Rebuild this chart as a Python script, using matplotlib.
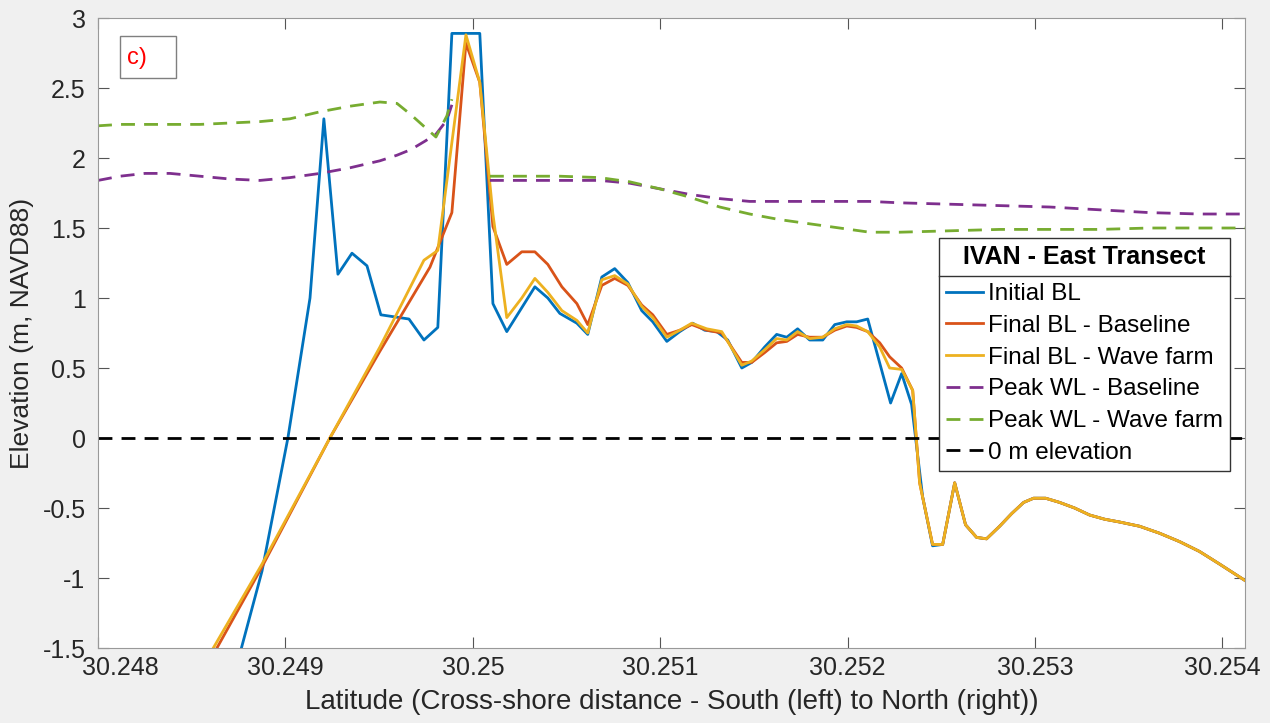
import numpy as np
import matplotlib
matplotlib.use("Agg")
import matplotlib.pyplot as plt
from matplotlib.lines import Line2D
from matplotlib.patches import Rectangle
from matplotlib.transforms import ScaledTranslation

# Cross-shore profile, IVAN - East Transect
lat_initial = [30.248715, 30.248875, 30.249013, 30.249131, 30.249205, 30.249280,
               30.249355, 30.249435, 30.249509, 30.249659, 30.249739, 30.249813,
               30.249888, 30.250037, 30.250107, 30.250181, 30.250256, 30.250331,
               30.250400, 30.250464, 30.250555, 30.250613, 30.250688, 30.250757,
               30.250827, 30.250901, 30.250960, 30.251035, 30.251104, 30.251173,
               30.251237, 30.251301, 30.251360, 30.251435, 30.251488, 30.251557,
               30.251621, 30.251675, 30.251733, 30.251797, 30.251867, 30.251931,
               30.251995, 30.252048, 30.252107, 30.252229, 30.252288, 30.252341,
               30.252400, 30.252453]
elev_initial = [-1.75, -0.95, 0.00, 1.00, 2.28, 1.17, 1.32, 1.23, 0.88, 0.85,
                0.70, 0.79, 2.89, 2.89, 0.96, 0.76, 0.92, 1.08, 1.00, 0.89,
                0.82, 0.74, 1.15, 1.21, 1.11, 0.91, 0.83, 0.69, 0.76, 0.82,
                0.77, 0.76, 0.70, 0.50, 0.54, 0.65, 0.74, 0.72, 0.78, 0.70,
                0.70, 0.81, 0.83, 0.83, 0.85, 0.25, 0.46, 0.24, -0.42, -0.77]

# both final profiles use the same x positions
lat_final = [30.248597, 30.248875, 30.249237, 30.249504, 30.249771, 30.249888,
             30.249963, 30.250037, 30.250107, 30.250181, 30.250261, 30.250331,
             30.250400, 30.250475, 30.250555, 30.250613, 30.250688, 30.250757,
             30.250827, 30.250901, 30.250960, 30.251035, 30.251104, 30.251168,
             30.251248, 30.251328, 30.251360, 30.251435, 30.251488, 30.251557,
             30.251621, 30.251675, 30.251733, 30.251797, 30.251867, 30.251931,
             30.251995, 30.252048, 30.252107, 30.252171, 30.252224, 30.252288,
             30.252347, 30.252384, 30.252453]
elev_final_base = [-1.59, -0.92, 0.00, 0.62, 1.22, 1.61, 2.82, 2.54, 1.51, 1.24,
                   1.33, 1.33, 1.24, 1.08, 0.96, 0.81, 1.09, 1.14, 1.09, 0.95,
                   0.88, 0.74, 0.77, 0.81, 0.77, 0.75, 0.69, 0.54, 0.54, 0.61,
                   0.68, 0.69, 0.74, 0.72, 0.72, 0.77, 0.80, 0.79, 0.76, 0.68,
                   0.58, 0.50, 0.34, -0.32, -0.76]
lat_final_wf = [30.248576] + lat_final[1:4] + [30.249739, 30.249813] + lat_final[6:]
elev_final_wf = [-1.59, -0.90, 0.00, 0.65, 1.27, 1.34, 2.88, 2.54, 1.60, 0.86,
                 1.00, 1.14, 1.04, 0.91, 0.84, 0.75, 1.13, 1.16, 1.10, 0.94,
                 0.86, 0.72, 0.77, 0.82, 0.78, 0.76, 0.69, 0.52, 0.55, 0.63,
                 0.71, 0.70, 0.76, 0.71, 0.72, 0.78, 0.81, 0.80, 0.76, 0.65,
                 0.50, 0.49, 0.34, -0.32, -0.76]

# offshore part, unchanged by the storm in all three profiles
lat_offshore = [30.252507, 30.252571, 30.252629, 30.252688, 30.252741, 30.252811,
                30.252875, 30.252939, 30.252992, 30.253056, 30.253131, 30.253211,
                30.253291, 30.253371, 30.253451, 30.253557, 30.253664, 30.253771,
                30.253877, 30.253984, 30.254123]
elev_offshore = [-0.76, -0.32, -0.62, -0.71, -0.72, -0.63, -0.54, -0.46, -0.43,
                 -0.43, -0.46, -0.50, -0.55, -0.58, -0.60, -0.63, -0.68, -0.74,
                 -0.81, -0.90, -1.02]

# peak water levels: south of the dune and north of it (dry dune crest in between)
lat_wl_south = [30.248000, 30.248117, 30.248251, 30.248384, 30.248544, 30.248704,
                30.248864, 30.249024, 30.249184, 30.249344, 30.249504, 30.249595,
                30.249669, 30.249744, 30.249803, 30.249861, 30.249888]
wl_base_south = [1.84, 1.87, 1.89, 1.89, 1.87, 1.85, 1.84, 1.86, 1.89, 1.93,
                 1.98, 2.02, 2.06, 2.12, 2.17, 2.27, 2.38]
wl_wf_south = [2.23, 2.24, 2.24, 2.24, 2.24, 2.25, 2.26, 2.28, 2.33, 2.37,
               2.40, 2.39, 2.31, 2.22, 2.15, 2.30, 2.42]
lat_wl_north = [30.250091, 30.250251, 30.250464, 30.250677, 30.250837, 30.250997,
                30.251157, 30.251317, 30.251477, 30.251637, 30.251797, 30.251957,
                30.252117, 30.252277, 30.252544, 30.252811, 30.253077, 30.253344,
                30.253611, 30.253877, 30.254130]
wl_base_north = [1.84, 1.84, 1.84, 1.84, 1.82, 1.78, 1.74, 1.71, 1.69, 1.69,
                 1.69, 1.69, 1.69, 1.68, 1.67, 1.66, 1.65, 1.63, 1.61, 1.60, 1.60]
wl_wf_north = [1.87, 1.87, 1.87, 1.86, 1.83, 1.78, 1.72, 1.65, 1.60, 1.56,
               1.53, 1.50, 1.47, 1.47, 1.48, 1.49, 1.49, 1.49, 1.50, 1.50, 1.50]

x_ticks = [30.248, 30.249, 30.250, 30.251, 30.252, 30.253, 30.254]
y_ticks = [-1.5, -1, -0.5, 0, 0.5, 1, 1.5, 2, 2.5, 3]

plt.rcParams["font.family"] = ["Liberation Sans", "DejaVu Sans"]

fig = plt.figure(figsize=(12.7, 7.23), dpi=100, facecolor="#f0f0f0")
ax = fig.add_axes([0.0772, 0.1037, 0.9031, 0.8714])
ax.set_facecolor("white")

lw = 2.0
dash = (5, 3.3)
ax.plot(lat_initial + lat_offshore, elev_initial + elev_offshore,
        color="#0072BD", lw=lw, label="Initial BL")
ax.plot(lat_final + lat_offshore, elev_final_base + elev_offshore,
        color="#D95319", lw=lw, label="Final BL - Baseline")
ax.plot(lat_final_wf + lat_offshore, elev_final_wf + elev_offshore,
        color="#EDB120", lw=lw, label="Final BL - Wave farm")

lat_wl = np.r_[lat_wl_south, np.nan, lat_wl_north]
ax.plot(lat_wl, np.r_[wl_base_south, np.nan, wl_base_north], color="#7E2F8E",
        lw=lw, ls="--", dashes=dash, label="Peak WL - Baseline")
ax.plot(lat_wl, np.r_[wl_wf_south, np.nan, wl_wf_north], color="#77AC30",
        lw=lw, ls="--", dashes=dash, label="Peak WL - Wave farm")
ax.axhline(0, color="black", lw=lw, ls="--", dashes=dash, label="0 m elevation")

ax.set_xlim(30.248, 30.25412)
ax.set_ylim(-1.5, 3)
ax.set_xticks(x_ticks)
ax.set_yticks(y_ticks)
ax.set_xticklabels([f"{v:g}" for v in x_ticks])
ax.set_yticklabels([f"{v:g}" for v in y_ticks])
ax.tick_params(direction="in", length=8, width=0.8, color="#555555",
               labelsize=18, labelcolor="#262626", top=True, right=True)
ax.tick_params(axis="x", pad=6)
ax.tick_params(axis="y", pad=9)
for s in ax.spines.values():
    s.set_color("#999999")
    s.set_linewidth(0.8)

# first tick label sits a bit to the right in the original
first = ax.get_xticklabels()[0]
first.set_transform(first.get_transform() + ScaledTranslation(0.22, 0, fig.dpi_scale_trans))

ax.set_xlabel("Latitude (Cross-shore distance - South (left) to North (right))",
              fontsize=20, color="#262626", labelpad=6)
ax.set_ylabel("Elevation (m, NAVD88)", fontsize=19, color="#262626", labelpad=6)

# panel label
ax.add_patch(Rectangle((0.0192, 0.905), 0.0488, 0.0667, transform=ax.transAxes,
                       fill=False, edgecolor="#7f7f7f", lw=1))
ax.text(0.025, 0.937, "c)", transform=ax.transAxes, color="red",
        fontsize=17, ha="left", va="center")

leg = ax.legend(loc="upper right", bbox_to_anchor=(0.987, 0.651),
                title="IVAN - East Transect", fontsize=17.5,
                title_fontproperties={"weight": "bold", "size": 18},
                handlelength=1.5, handletextpad=0.2, labelspacing=0.4,
                borderpad=0.3, borderaxespad=0, fancybox=False,
                framealpha=1, edgecolor="#333333")
leg.get_frame().set_linewidth(1.0)
leg._legend_box.sep = 10

# separator line under the legend title, as MATLAB draws it
fig.canvas.draw()
r = fig.canvas.get_renderer()
fb = leg.get_frame().get_window_extent(r)
tb = leg.get_title().get_window_extent(r)
t0 = leg.get_texts()[0].get_window_extent(r)
ysep = (tb.y0 + t0.y1) / 2
inv = fig.transFigure.inverted()
(x0, y0), (x1, _) = inv.transform([(fb.x0, ysep), (fb.x1, ysep)])
fig.add_artist(Line2D([x0, x1], [y0, y0], transform=fig.transFigure,
                      color="#333333", lw=1.0, zorder=10))

fig.savefig("out.png", dpi=100, facecolor=fig.get_facecolor())
